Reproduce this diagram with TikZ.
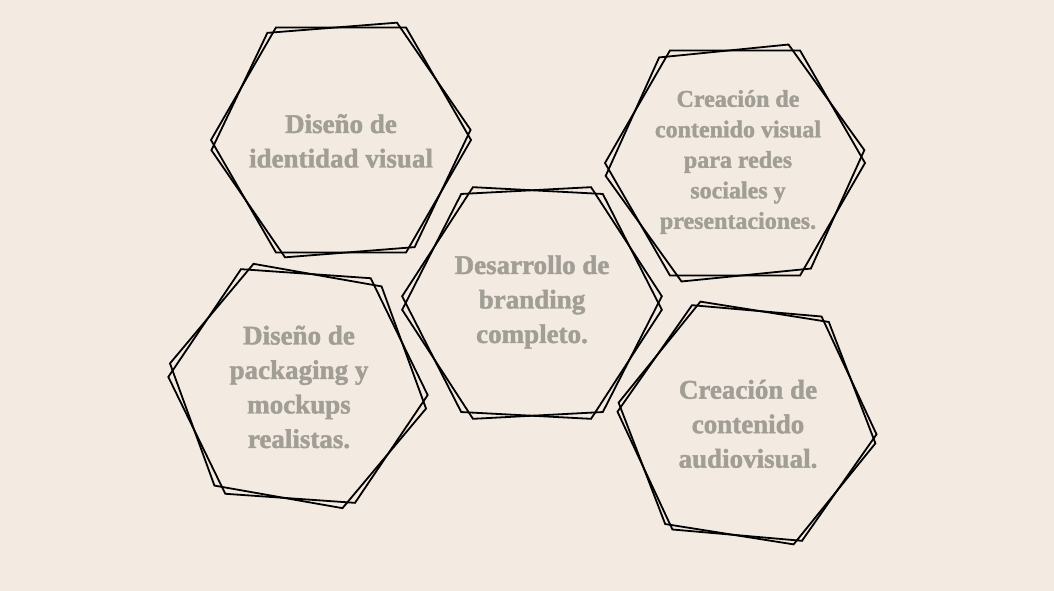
\documentclass[tikz,border=0pt]{standalone}
\usepackage{fontspec}
\setmainfont{Liberation Serif}
\newfontfamily\heavyfont{Liberation Serif Bold}[FakeBold=1.6]
\definecolor{bgcol}{HTML}{F3EAE1}
\definecolor{txtcol}{HTML}{A19E96}
\tikzset{
  hexline/.style={draw=black, line width=1.8pt, line join=miter},
  hextext/.style={text=txtcol, align=center, inner sep=0pt,
    font=\heavyfont\fontsize{27}{34.5}\selectfont},
  hextextsmall/.style={hextext, font=\heavyfont\fontsize{24}{30.5}\selectfont}
}
\newcommand\hexring[2]{%
  \draw[hexline] (#1.center) +(#2:130) -- +(#2+60:130) -- +(#2+120:130)
    -- +(#2+180:130) -- +(#2+240:130) -- +(#2+300:130) -- cycle;}
\begin{document}
\begin{tikzpicture}[x=1pt,y=-1pt]
\fill[bgcol] (0,0) rectangle (1054,591);
\useasboundingbox (0,0) rectangle (1054,591);

\node[hextext] (identidad) at (341,141) {Diseño de\\identidad visual};
\node[hextext] (branding) at (532,302) {Desarrollo de\\branding\\completo.};
\node[hextextsmall] (redes) at (738,162) {Creación de\\contenido visual\\para redes\\sociales y\\presentaciones.};
\node[hextext] (packaging) at (299,387) {Diseño de\\packaging y\\mockups\\realistas.};
\node[hextext] (audiovisual) at (748,424) {Creación de\\contenido\\audiovisual.};

\coordinate (h1) at (341,140);
\coordinate (h2) at (532,303);
\coordinate (h3) at (735,163);
\coordinate (h4) at (298,386);
\coordinate (h5) at (747,423);

\hexring{h1}{0}
\hexring{h1}{-4.5}
\hexring{h2}{3}
\hexring{h2}{-3}
\hexring{h3}{0}
\hexring{h3}{-5.7}
\hexring{h4}{4}
\hexring{h4}{10}
\hexring{h5}{5}
\hexring{h5}{9}
\end{tikzpicture}
\end{document}
